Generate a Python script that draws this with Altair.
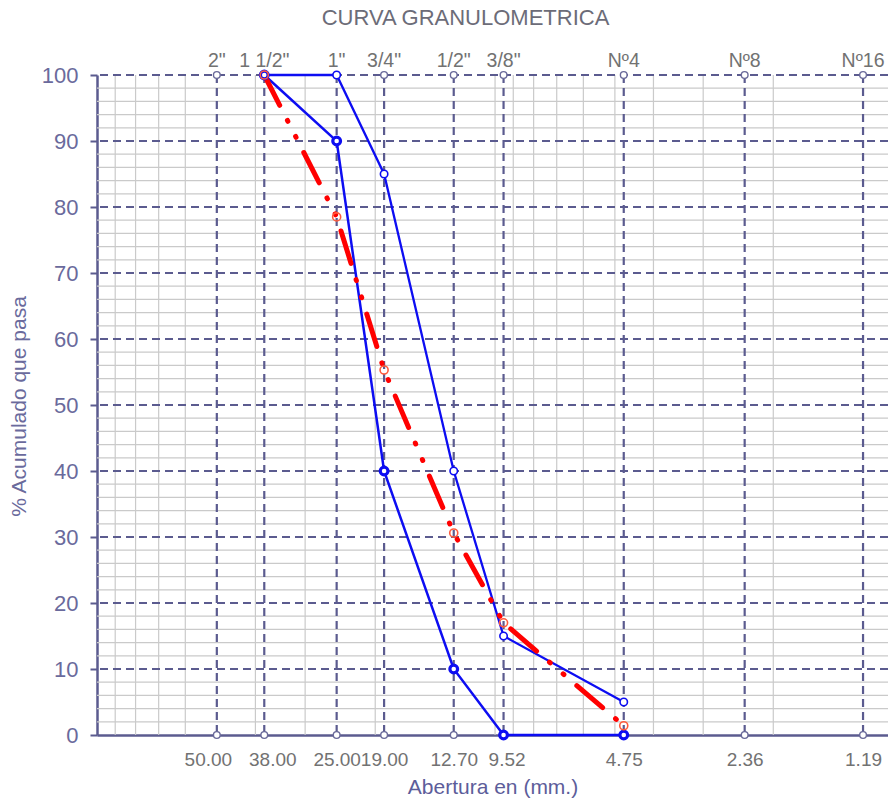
import altair as alt
import pandas as pd

# ---- data ----
sieve_names = ['2"', '1 1/2"', '1"', '3/4"', '1/2"', '3/8"', 'Nº4', 'Nº8', 'Nº16']
sieve_mm = [50.00, 38.00, 25.00, 19.00, 12.70, 9.52, 4.75, 2.36, 1.19]

curve_mm = [38.00, 25.00, 19.00, 12.70, 9.52, 4.75]
upper_limit = [100, 100, 85, 40, 15, 5]
lower_limit = [100, 90, 40, 10, 0, 0]
sample_pass = [100, 78.5, 55.3, 30.6, 17.0, 1.4]

minor_x = [2, 3, 4, 5, 6, 7, 8, 9, 10, 20, 30, 40, 60, 70, 80, 90]
minor_y = [2, 4, 6, 8, 12, 14, 16, 18, 22, 24, 26, 28, 32, 34, 36, 38, 42, 44, 46, 48,
           52, 54, 56, 58, 62, 64, 66, 68, 72, 74, 76, 78, 82, 84, 86, 88, 92, 94, 96, 98]
major_y = [10, 20, 30, 40, 50, 60, 70, 80, 90, 100]
y_ticks = [0, 10, 20, 30, 40, 50, 60, 70, 80, 90, 100]

W, H = 791, 660
AXIS_COL = "#5b5b8f"
LABEL_COL = "#6a6a9c"
GRAY_TXT = "#727272"
BLUE = "#0d0df2"
RED = "#ff0000"

xscale = alt.Scale(type="log", domain=[1.03, 100], reverse=True, nice=False)
yscale = alt.Scale(domain=[0, 100], nice=False, zero=False)

x_axis = alt.Axis(values=sieve_mm, format=".2f", ticks=False, grid=False,
                  domainColor=AXIS_COL, domainWidth=2.5,
                  labelFontSize=19, labelColor=GRAY_TXT, labelPadding=15,
                  labelOffset=alt.ExprRef("datum.value == 50 ? -9 : (datum.value == 38 ? 8 : (datum.value == 9.52 ? 3 : 0))"),
                  labelOverlap=False, labelFlush=False, labelBound=False,
                  title="Abertura en (mm.)", titleFontSize=21,
                  titleColor="#5d5d9a", titleFontWeight="normal",
                  titleY=52, titleBaseline="middle")
y_axis = alt.Axis(values=y_ticks, grid=False, tickSize=7, tickWidth=2,
                  tickColor=AXIS_COL, domainColor=AXIS_COL, domainWidth=2.5,
                  labelFontSize=22, labelColor=LABEL_COL, labelPadding=12,
                  title="% Acumulado que pasa", titleFontSize=21,
                  titleColor=LABEL_COL, titleFontWeight="normal",
                  titleX=-78, titleY=331, titleAngle=270,
                  titleAlign="center", titleBaseline="middle")

sieves = pd.DataFrame({"mm": sieve_mm, "name": sieve_names})
curves = pd.DataFrame({"mm": curve_mm, "upper": upper_limit,
                       "lower": lower_limit, "sample": sample_pass})
mx = pd.DataFrame({"mm": minor_x})
my = pd.DataFrame({"v": minor_y})
My = pd.DataFrame({"v": major_y})

def X(field="mm"):
    return alt.X(f"{field}:Q", scale=xscale, axis=x_axis, title="Abertura en (mm.)")

def Y(field):
    return alt.Y(f"{field}:Q", scale=yscale, axis=y_axis, title="% Acumulado que pasa")

def Yd(v):
    return alt.Y(datum=v, scale=yscale, axis=y_axis, title="% Acumulado que pasa")

minor_v = alt.Chart(mx).mark_rule(color="#cacaca", strokeWidth=1.2).encode(x=X("mm"))
minor_h = alt.Chart(my).mark_rule(color="#cacaca", strokeWidth=1.2).encode(y=Y("v"))
major_v = alt.Chart(sieves).mark_rule(color=AXIS_COL, strokeWidth=2.2, strokeDash=[8, 5]).encode(x=X("mm"))
major_h = alt.Chart(My).mark_rule(color=AXIS_COL, strokeWidth=2.2, strokeDash=[8, 5]).encode(y=Y("v"))

bottom_pts = alt.Chart(sieves).mark_circle(
    fill="white", stroke="#6a6a9a", strokeWidth=1.4, size=45, opacity=1
).encode(x=X("mm"), y=Yd(0))
top_pts = alt.Chart(sieves).mark_circle(
    fill="white", stroke="#6a6a9a", strokeWidth=1.4, size=45, opacity=1
).encode(x=X("mm"), y=Yd(100))

top_labels = alt.Chart(sieves).mark_text(
    dy=-8, baseline="alphabetic", fontSize=19.5, color=GRAY_TXT
).encode(x=X("mm"), y=Yd(100), text="name:N")

upper_line = alt.Chart(curves).mark_line(color=BLUE, strokeWidth=2.3).encode(x=X(), y=Y("upper"))
lower_line = alt.Chart(curves).mark_line(color=BLUE, strokeWidth=2.5).encode(x=X(), y=Y("lower"))
sample_line = alt.Chart(curves).mark_line(
    color=RED, strokeWidth=5, strokeDash=[34, 17, 1, 17, 1, 17], strokeCap="round"
).encode(x=X(), y=Y("sample"))

upper_pts = alt.Chart(curves).mark_circle(
    fill="white", stroke=BLUE, strokeWidth=1.6, size=55, opacity=1
).encode(x=X(), y=Y("upper"))
lower_pts = alt.Chart(curves).mark_circle(
    fill="white", stroke=BLUE, strokeWidth=3.2, size=60, opacity=1
).encode(x=X(), y=Y("lower"))
sample_pts = alt.Chart(curves).mark_circle(
    fill="white", fillOpacity=0, stroke="#ff5a3c", strokeWidth=1.6, size=65, opacity=1
).encode(x=X(), y=Y("sample"))

chart = alt.layer(
    minor_v, minor_h, major_v, major_h, bottom_pts, top_pts, top_labels,
    upper_line, lower_line, sample_line, upper_pts, lower_pts, sample_pts
).properties(
    width=W, height=H,
    title=alt.TitleParams("CURVA GRANULOMETRICA", fontSize=22, color="#6c6c78",
                          fontWeight="normal", anchor="middle", dx=-27,
                          baseline="alphabetic", offset=4, frame="group"),
    autosize=alt.AutoSizeParams(type="none"),
    padding={"left": 97, "top": 75, "right": 0, "bottom": 68},
).configure(
    font="Liberation Sans",
    background="white",
).configure_view(stroke=None)

chart.save("out.html", embed_options={"renderer": "svg", "actions": False})
